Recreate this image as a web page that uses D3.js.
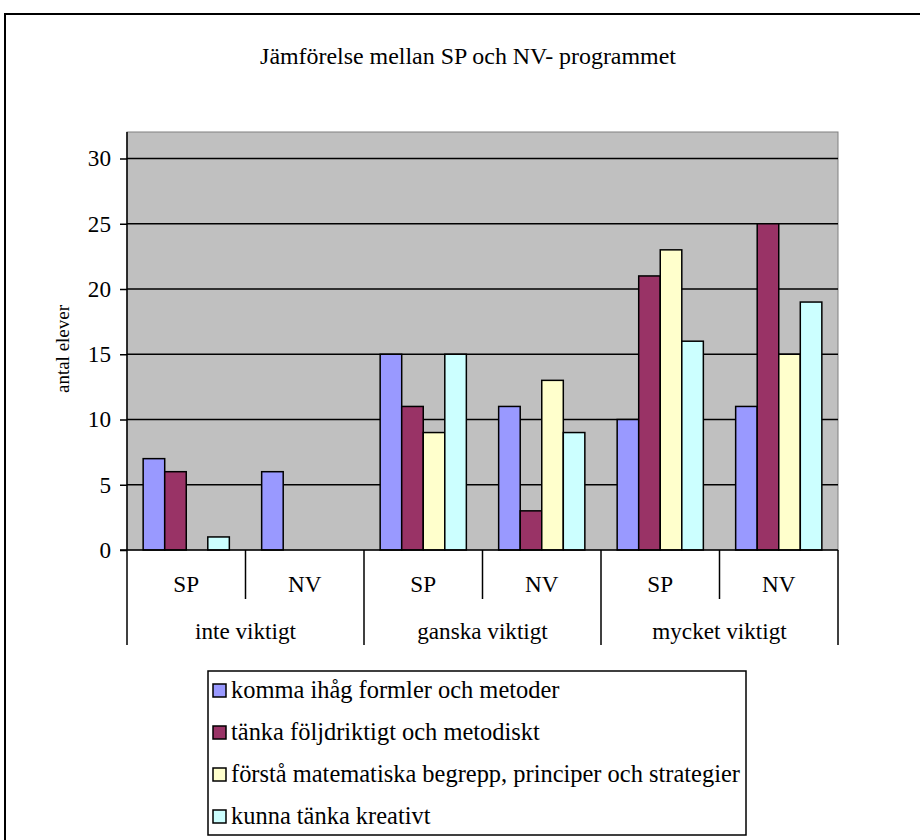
<!DOCTYPE html>
<html><head><meta charset="utf-8">
<script src="https://cdn.jsdelivr.net/npm/d3@7"></script>
<style>body{margin:0;background:#fff;} svg{display:block;} svg text{font-family:"Liberation Serif",serif !important;}</style>
</head><body>
<script>
const groups = ["inte viktigt", "ganska viktigt", "mycket viktigt"];
const programs = ["SP", "NV"];
const series = ["komma ihåg formler och metoder", "tänka följdriktigt och metodiskt", "förstå matematiska begrepp, principer och strategier", "kunna tänka kreativt"];
const colors = ["#9999FF", "#993366", "#FFFFCC", "#CCFFFF"];
// values per subgroup (group × program), order by series
const values = [
  [7, 6, 0, 1],    // inte viktigt SP
  [6, 0, 0, 0],    // inte viktigt NV
  [15, 11, 9, 15], // ganska viktigt SP
  [11, 3, 13, 9],  // ganska viktigt NV
  [10, 21, 23, 16],// mycket viktigt SP
  [11, 25, 15, 19] // mycket viktigt NV
];
const yTicks = [0, 5, 10, 15, 20, 25, 30];

const FONT = "Liberation Serif";
const W = 920, H = 840;
const svg = d3.select("body").append("svg").attr("width", W).attr("height", H)
  .attr("font-family", FONT);

function txt(parent) { return parent.append("text").attr("font-family", FONT).attr("fill", "#000"); }
function fit(sel, target) {
  sel.attr("font-size", 20);
  const w = sel.node().getComputedTextLength();
  const fs = 20 * target / w;
  sel.attr("font-size", fs);
  return fs;
}

// outer border
svg.append("rect").attr("x", 5).attr("y", 14).attr("width", 940).attr("height", 860)
  .attr("fill", "#fff").attr("stroke", "#000").attr("stroke-width", 2);

const title = txt(svg).attr("x", 468).attr("y", 64).attr("text-anchor", "middle")
  .text("Jämförelse mellan SP och NV- programmet");
fit(title, 416);

const L = 127, R = 838, T = 132, B = 550;
const subKeys = d3.range(values.length);
const x0 = d3.scaleBand().domain(subKeys).range([L, R]).paddingInner(0).paddingOuter(0);
const step = x0.bandwidth();
const bw = step / 5.5;
const x1 = d3.scaleBand().domain(d3.range(series.length)).range([bw * 0.75, step - bw * 0.75]).padding(0);
const y = d3.scaleLinear().domain([0, 30]).range([B, 158.5]);

svg.append("rect").attr("x", L).attr("y", T).attr("width", R - L).attr("height", B - T)
  .attr("fill", "#C0C0C0").attr("stroke", "#808080").attr("stroke-width", 1);

// gridlines
svg.append("g").selectAll("line").data(yTicks.filter(d => d > 0)).join("line")
  .attr("x1", L).attr("x2", R).attr("y1", d => y(d)).attr("y2", d => y(d))
  .attr("stroke", "#000").attr("stroke-width", 1.5);

// bars
const sg = svg.append("g").selectAll("g").data(values).join("g")
  .attr("transform", (d, i) => `translate(${x0(i)},0)`);
sg.selectAll("rect").data(d => d.map((v, k) => ({v, k}))).join("rect")
  .attr("x", d => x1(d.k)).attr("width", x1.bandwidth())
  .attr("y", d => y(d.v)).attr("height", d => y(0) - y(d.v))
  .attr("fill", d => colors[d.k]).attr("stroke", "#000").attr("stroke-width", 1.5)
  .attr("display", d => d.v > 0 ? null : "none");

// group label size
const probe = txt(svg).text(groups[0]);
const labFs = fit(probe, 101);
probe.remove();

// y axis
const yAxis = d3.axisLeft(y).tickValues(yTicks).tickSize(7).tickPadding(9);
const ya = svg.append("g").attr("transform", `translate(${L},0)`).call(yAxis)
  .attr("font-family", FONT).attr("font-size", labFs);
ya.select(".domain").attr("stroke", "#000").attr("stroke-width", 1.5).attr("d", `M0,${T}V${B}`);
ya.selectAll(".tick line").attr("stroke", "#000").attr("stroke-width", 1.5);
ya.selectAll(".tick text").attr("fill", "#000").attr("font-family", FONT).attr("font-size", labFs);

const ylab = txt(svg).attr("transform", `translate(69,${349}) rotate(-90)`).attr("text-anchor", "middle")
  .text("antal elever");
fit(ylab, 88);

// x axis line
svg.append("line").attr("x1", L - 7).attr("x2", R).attr("y1", B).attr("y2", B)
  .attr("stroke", "#000").attr("stroke-width", 1.5);

// sub dividers and group dividers
const xb = svg.append("g");
subKeys.forEach(i => {
  const xs = x0(i);
  const isGroup = i % 2 === 0;
  xb.append("line").attr("x1", xs).attr("x2", xs).attr("y1", B).attr("y2", isGroup ? 645 : 599)
    .attr("stroke", "#000").attr("stroke-width", 1.5);
  txt(xb).attr("x", xs + step / 2).attr("y", 592).attr("text-anchor", "middle")
    .attr("font-size", labFs).text(programs[i % 2]);
});
xb.append("line").attr("x1", R).attr("x2", R).attr("y1", B).attr("y2", 645)
  .attr("stroke", "#000").attr("stroke-width", 1.5);
groups.forEach((g, j) => {
  txt(xb).attr("x", x0(j * 2) + step).attr("y", 639).attr("text-anchor", "middle")
    .attr("font-size", labFs).text(g);
});

// legend
const lg = svg.append("g");
lg.append("rect").attr("x", 208).attr("y", 671).attr("width", 538).attr("height", 164)
  .attr("fill", "#fff").attr("stroke", "#000").attr("stroke-width", 1.5);
const probe2 = txt(svg).text(series[2]);
const legFs = fit(probe2, 509);
probe2.remove();
series.forEach((s, k) => {
  const cy = 691 + k * 42;
  lg.append("rect").attr("x", 213).attr("y", cy - 7).attr("width", 13).attr("height", 13)
    .attr("fill", colors[k]).attr("stroke", "#000").attr("stroke-width", 1.5);
  txt(lg).attr("x", 231).attr("y", cy + 7).attr("font-size", legFs).text(s);
});
</script>
</body></html>
